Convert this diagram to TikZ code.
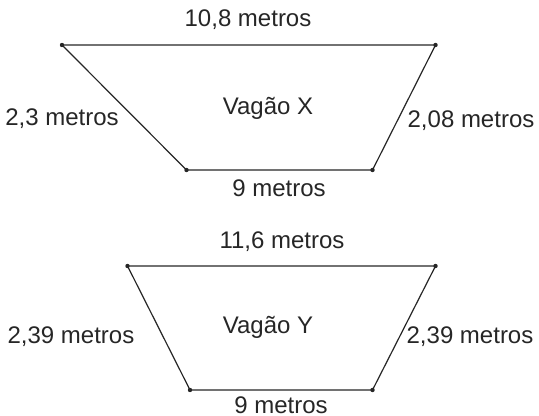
\documentclass[tikz,border=0pt]{standalone}
\usepackage{fontspec}
\setmainfont{Liberation Sans}
\usepackage{xcolor}
\usepackage{tikz}
\usetikzlibrary{positioning}

\begin{document}
\begin{tikzpicture}[x=0.5pt, y=-0.5pt,
    side/.style={line width=0.6pt, black!85},
    vertex/.style={circle, fill=black!85, inner sep=0pt, minimum size=2.2pt},
    measure/.style={font=\fontsize{12}{14}\selectfont, text=black!85, inner sep=0pt}]
  \useasboundingbox (0,0) rectangle (539,416);
  % Wagon X (corners)
  \node[vertex] (xtl) at (62,45) {};
  \node[vertex] (xtr) at (435.5,45) {};
  \node[vertex] (xbr) at (372.5,170) {};
  \node[vertex] (xbl) at (186.5,170) {};
  \draw[side] (xtl.center) -- (xtr.center) -- (xbr.center) -- (xbl.center) -- (xtl.center);
  % Wagon Y (corners)
  \node[vertex] (ytl) at (127.5,266) {};
  \node[vertex] (ytr) at (435.5,266) {};
  \node[vertex] (ybr) at (372.5,390) {};
  \node[vertex] (ybl) at (190,390) {};
  \draw[side] (ytl.center) -- (ytr.center) -- (ybr.center) -- (ybl.center) -- (ytl.center);
  % Labels X
  \node[measure] (xtop) at (248,20) {10,8 metros};
  \node[measure] (xname) at (268,108) {Vagão X};
  \node[measure] (xleft) at (62,119) {2,3 metros};
  \node[measure] (xright) at (471,121) {2,08 metros};
  \node[measure] (xbot) at (279,188) {9 metros};
  % Labels Y
  \node[measure] (ytop) at (282,242) {11,6 metros};
  \node[measure] (yname) at (268,327) {Vagão Y};
  \node[measure] (yleft) at (71,337) {2,39 metros};
  \node[measure] (yright) at (470,337) {2,39 metros};
  \node[measure] (ybot) at (281,405) {9 metros};
\end{tikzpicture}
\end{document}
